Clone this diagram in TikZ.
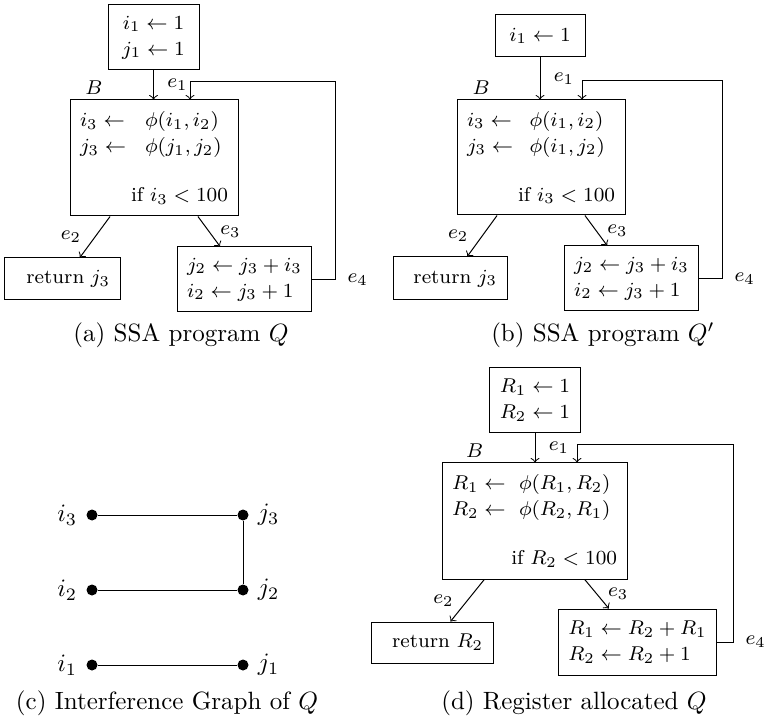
\RequirePackage{fix-cm}
\documentclass[tikz,border=0pt]{standalone}
\usepackage{amsmath}
\usetikzlibrary{calc, positioning}

\begin{document}
\begin{tikzpicture}[x=0.4pt, y=-0.4pt, font=\fontsize{8}{10.4}\selectfont,
	blk/.style={draw, inner xsep=4pt, inner ysep=0pt},
	vtx/.style={circle, fill, inner sep=0pt, minimum size=4.4pt, label distance=1.2pt},
	every label/.style={font=\normalsize},
	subcap/.style={font=\normalsize}]
	\useasboundingbox (0,0) rectangle (765,717);

	\node[blk, align=center, minimum width=36.4pt, minimum height=26pt] (ainit) at (153.5,37.5) {$i_1 \leftarrow 1$\\$j_1 \leftarrow 1$};
	\node[blk, text width=59.2pt, align=left, minimum height=46.4pt] (ab) at (154,158) {\makebox[26pt][l]{$i_3 \leftarrow$}$\phi(i_1,i_2)$\\\makebox[26pt][l]{$j_3 \leftarrow$}$\phi(j_1,j_2)$\\[9.2pt]\hspace*{\fill}if $i_3 < 100$};
	\node[blk, text width=38pt, align=right, minimum height=16.8pt] (aret) at (62.5,279) {return $j_3$};
	\node[blk, align=left, minimum width=53.2pt, minimum height=26pt] (abody) at (244.5,279.5) {$j_2 \leftarrow j_3 + i_3$\\$i_2 \leftarrow j_3 + 1$};
	\node (alab) at ($(ab.north)+(-60,-11.5)$) {$B$};
	\coordinate (aloop) at (335,82);
	\draw[->] (ainit) -- (ainit |- ab.north) node[midway, right=2pt] {$e_1$};
	\draw[->] ($(ab.south west)!0.24!(ab.south east)$) -- ($(aret.north west)!0.65!(aret.north east)$) node[midway, left=2pt] {$e_2$};
	\draw[->] ($(ab.south west)!0.76!(ab.south east)$) -- ($(abody.north west)!0.32!(abody.north east)$) node[midway, right=1pt] {$e_3$};
	\draw[->] (abody) -| (aloop) -| ($(ab.north)+(36,0)$);
	\node[right=1.5pt] (ae4) at (aloop |- abody.east) {$e_4$};
	\node[subcap] (acap) at (181,335) {(a) SSA program $Q$};

	\node[blk, minimum width=36pt, minimum height=16.8pt] (binit) at (540,36) {$i_1 \leftarrow 1$};
	\node[blk, text width=59.2pt, align=left, minimum height=46pt] (bb) at (541,157.5) {\makebox[25pt][l]{$i_3 \leftarrow$}$\phi(i_1,i_2)$\\\makebox[25pt][l]{$j_3 \leftarrow$}$\phi(i_1,j_2)$\\[9.2pt]\hspace*{\fill}if $i_3 < 100$};
	\node[blk, text width=37.6pt, align=right, minimum height=17.2pt] (bret) at (450,278.5) {return $j_3$};
	\node[blk, align=left, minimum width=53.2pt, minimum height=26pt] (bbody) at (631.5,278.5) {$j_2 \leftarrow j_3 + i_3$\\$i_2 \leftarrow j_3 + 1$};
	\node (blab) at ($(bb.north)+(-60,-12)$) {$B$};
	\coordinate (bloop) at (722,81);
	\draw[->] (binit) -- (binit |- bb.north) node[midway, right=2pt] {$e_1$};
	\draw[->] ($(bb.south west)!0.24!(bb.south east)$) -- ($(bret.north west)!0.65!(bret.north east)$) node[midway, left=2pt] {$e_2$};
	\draw[->] ($(bb.south west)!0.76!(bb.south east)$) -- ($(bbody.north west)!0.32!(bbody.north east)$) node[midway, right=1pt] {$e_3$};
	\draw[->] (bbody) -| (bloop) -| ($(bb.north)+(41,0)$);
	\node[right=1.5pt] (be4) at (bloop |- bbody.east) {$e_4$};
	\node[subcap] (bcap) at (603,335) {(b) SSA program $Q'$};

	\node[vtx, label=left:$i_3$] (i3) at (92,515) {};
	\node[vtx, label=right:$j_3$] (j3) at (243,515) {};
	\node[vtx, label=left:$i_2$] (i2) at (92,590) {};
	\node[vtx, label=right:$j_2$] (j2) at (243,590) {};
	\node[vtx, label=left:$i_1$] (i1) at (92,665) {};
	\node[vtx, label=right:$j_1$] (j1) at (243,665) {};
	\draw (i3) -- (j3) -- (j2) -- (i2);
	\draw (i1) -- (j1);
	\node[subcap] (ccap) at (167,703) {(c) Interference Graph of $Q$};

	\node[blk, align=center, minimum width=36pt, minimum height=26pt] (dinit) at (535,400.5) {$R_1 \leftarrow 1$\\$R_2 \leftarrow 1$};
	\node[blk, text width=66pt, align=left, minimum height=46.4pt] (db) at (534.5,521) {\makebox[26.8pt][l]{$R_1 \leftarrow$}$\phi(R_1,R_2)$\\\makebox[26.8pt][l]{$R_2 \leftarrow$}$\phi(R_2,R_1)$\\[9.2pt]\hspace*{\fill}if $R_2 < 100$};
	\node[blk, text width=40.8pt, align=right, minimum height=16.4pt] (dret) at (432,642.5) {return $R_2$};
	\node[blk, align=left, minimum width=62pt, minimum height=26.4pt] (dbody) at (637.5,642) {$R_1 \leftarrow R_2 + R_1$\\$R_2 \leftarrow R_2 + 1$};
	\node (dlab) at ($(db.north)+(-60,-12)$) {$B$};
	\coordinate (dloop) at (733,445);
	\draw[->] (dinit) -- (dinit |- db.north) node[midway, right=2pt] {$e_1$};
	\draw[->] ($(db.south west)!0.23!(db.south east)$) -- ($(dret.north west)!0.65!(dret.north east)$) node[midway, left=2pt] {$e_2$};
	\draw[->] ($(db.south west)!0.77!(db.south east)$) -- ($(dbody.north west)!0.32!(dbody.north east)$) node[midway, right=1pt] {$e_3$};
	\draw[->] (dbody) -| (dloop) -| ($(db.north)+(42.5,0)$);
	\node[right=1.5pt] (de4) at (dloop |- dbody.east) {$e_4$};
	\node[subcap] (dcap) at (574,703) {(d) Register allocated $Q$};
\end{tikzpicture}
\end{document}
